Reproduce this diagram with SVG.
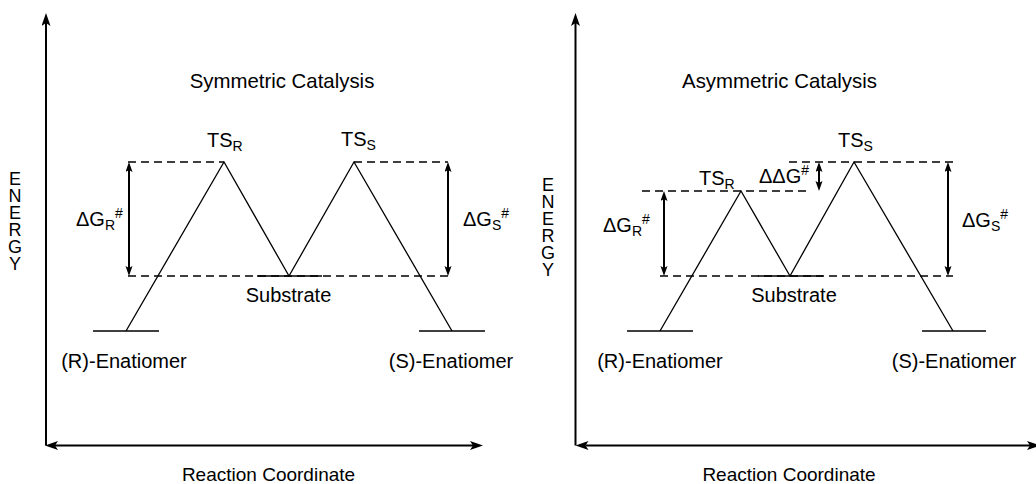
<svg xmlns="http://www.w3.org/2000/svg" width="1036" height="484" viewBox="0 0 1036 484">
<style>
text{font-family:"Liberation Sans",Arial,sans-serif;font-size:20px;fill:#000}
.m{text-anchor:middle}
.t{font-size:20.4px}
.x{font-size:19px}
.sub{font-size:14px}
.en{font-size:18px;writing-mode:vertical-rl;text-orientation:upright;letter-spacing:-3px}
.axis{stroke:#000;stroke-width:2;fill:none}
.prof{stroke:#000;stroke-width:1.3;fill:none}
.dash{stroke:#000;stroke-width:1.4;stroke-dasharray:8 5;fill:none}
.dg{stroke:#000;stroke-width:2;fill:none}
</style>
<defs>
<marker id="ah" markerUnits="userSpaceOnUse" markerWidth="14" markerHeight="10" refX="3" refY="4.5" orient="auto-start-reverse">
<path d="M0,0 L13,4.5 L0,9 L3,4.5 z" fill="#000"/>
</marker>
<marker id="sh" markerUnits="userSpaceOnUse" markerWidth="11" markerHeight="8" refX="2" refY="3.5" orient="auto-start-reverse">
<path d="M0,0 L10,3.5 L0,7 L2,3.5 z" fill="#000"/>
</marker>
</defs>

<g id="connectors">
<!-- left panel axes -->
<line class="axis" x1="46" y1="445.5" x2="46" y2="23" marker-end="url(#ah)"/>
<line class="axis" x1="55" y1="445.5" x2="473" y2="445.5" marker-start="url(#ah)" marker-end="url(#ah)"/>
<!-- right panel axes -->
<line class="axis" x1="575.5" y1="445.5" x2="575.5" y2="23" marker-end="url(#ah)"/>
<line class="axis" x1="585.5" y1="445.5" x2="1030" y2="445.5" marker-start="url(#ah)" marker-end="url(#ah)"/>

<!-- left dashed -->
<line class="dash" x1="128" y1="162" x2="224" y2="162"/>
<line class="dash" x1="354" y1="162" x2="448" y2="162"/>
<line class="dash" x1="128" y1="276" x2="448" y2="276"/>
<!-- left profile -->
<polyline class="prof" points="126,331 224,162 289,276 354,162 452,331"/>
<!-- left barrier arrows -->
<line class="dg" x1="129" y1="170" x2="129" y2="268" marker-start="url(#sh)" marker-end="url(#sh)"/>
<line class="dg" x1="448" y1="170" x2="448" y2="268" marker-start="url(#sh)" marker-end="url(#sh)"/>

<!-- right dashed -->
<line class="dash" x1="642" y1="191" x2="808" y2="191"/>
<line class="dash" x1="789" y1="162" x2="953" y2="162"/>
<line class="dash" x1="660" y1="276" x2="953" y2="276"/>
<!-- right profile -->
<polyline class="prof" points="660,331 741,191 790,276 854,162 953,331"/>
<!-- right barrier arrows -->
<line class="dg" x1="664" y1="199" x2="664" y2="268" marker-start="url(#sh)" marker-end="url(#sh)"/>
<line class="dg" x1="819" y1="170" x2="819" y2="183" marker-start="url(#sh)" marker-end="url(#sh)"/>
<line class="dg" x1="948" y1="170" x2="948" y2="268" marker-start="url(#sh)" marker-end="url(#sh)"/>
</g>

<!-- LEFT PANEL NODES -->
<g id="left-title"><text class="m t" x="282" y="88">Symmetric Catalysis</text></g>
<g id="left-energy"><text class="en" x="15" y="169">ENERGY</text></g>
<g id="left-tsr"><text x="207" y="147">TS<tspan class="sub" dy="4">R</tspan></text></g>
<g id="left-tss"><text x="341" y="146">TS<tspan class="sub" dy="4">S</tspan></text></g>
<g id="left-dgr"><text x="76" y="226">ΔG<tspan class="sub" dy="4">R</tspan><tspan class="sub" dy="-12">#</tspan></text></g>
<g id="left-dgs"><text x="463" y="226">ΔG<tspan class="sub" dy="4">S</tspan><tspan class="sub" dy="-12">#</tspan></text></g>
<g id="left-substrate">
<line class="prof" x1="257" y1="276" x2="322" y2="276"/>
<text class="m" x="288.5" y="302">Substrate</text>
</g>
<g id="left-r">
<line class="prof" x1="93" y1="331" x2="159" y2="331"/>
<text class="m" x="124" y="368">(R)-Enatiomer</text>
</g>
<g id="left-s">
<line class="prof" x1="419" y1="331" x2="485" y2="331"/>
<text class="m" x="451" y="368">(S)-Enatiomer</text>
</g>
<g id="left-xlabel"><text class="m x" x="268.5" y="481">Reaction Coordinate</text></g>

<!-- RIGHT PANEL NODES -->
<g id="right-title"><text class="m t" x="779.5" y="88">Asymmetric Catalysis</text></g>
<g id="right-energy"><text class="en" x="548" y="175">ENERGY</text></g>
<g id="right-tsr"><text x="699" y="185">TS<tspan class="sub" dy="4">R</tspan></text></g>
<g id="right-tss"><text x="838" y="147">TS<tspan class="sub" dy="4">S</tspan></text></g>
<g id="right-ddg"><text x="759" y="183">ΔΔG<tspan class="sub" dy="-8">#</tspan></text></g>
<g id="right-dgr"><text x="603" y="232">ΔG<tspan class="sub" dy="4">R</tspan><tspan class="sub" dy="-12">#</tspan></text></g>
<g id="right-dgs"><text x="962" y="227">ΔG<tspan class="sub" dy="4">S</tspan><tspan class="sub" dy="-12">#</tspan></text></g>
<g id="right-substrate">
<line class="prof" x1="758" y1="276" x2="823" y2="276"/>
<text class="m" x="794" y="302">Substrate</text>
</g>
<g id="right-r">
<line class="prof" x1="627" y1="331" x2="693" y2="331"/>
<text class="m" x="660" y="368">(R)-Enatiomer</text>
</g>
<g id="right-s">
<line class="prof" x1="922" y1="331" x2="986" y2="331"/>
<text class="m" x="954" y="368">(S)-Enatiomer</text>
</g>
<g id="right-xlabel"><text class="m x" x="789" y="481">Reaction Coordinate</text></g>
</svg>
